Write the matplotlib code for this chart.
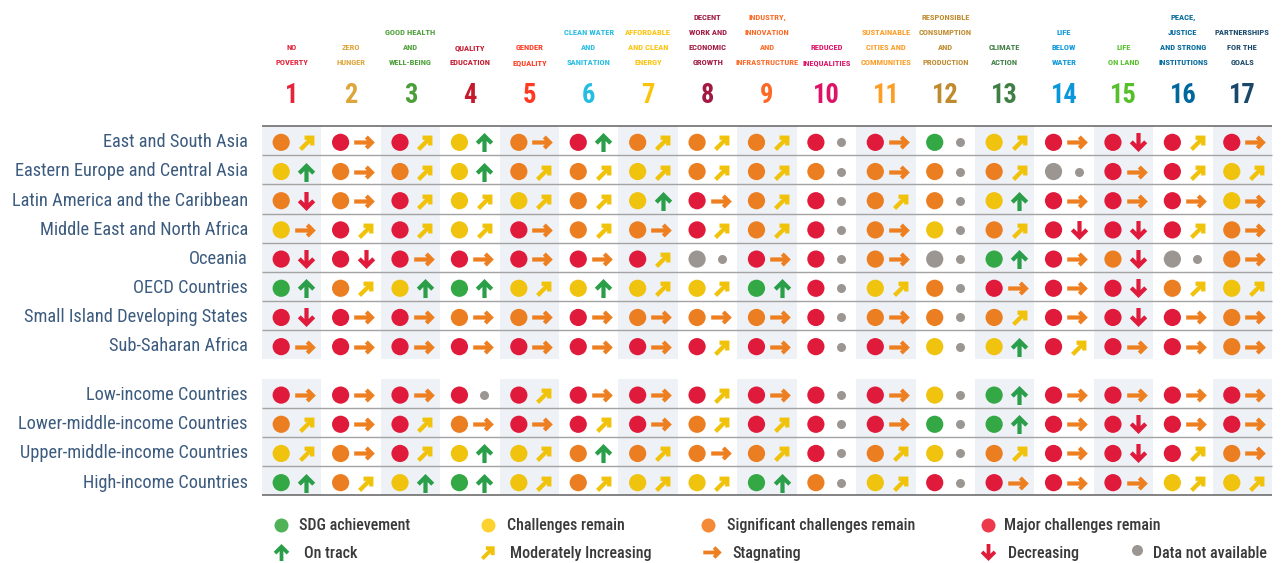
import os
import numpy as np
import matplotlib
matplotlib.use("Agg")
import matplotlib.pyplot as plt
from matplotlib import font_manager as fm
from matplotlib.path import Path
from matplotlib.markers import MarkerStyle

# ---------------------------------------------------------------- data
regions = ["East and South Asia", "Eastern Europe and Central Asia",
           "Latin America and the Caribbean", "Middle East and North Africa",
           "Oceania", "OECD Countries", "Small Island Developing States",
           "Sub-Saharan Africa"]
income_groups = ["Low-income Countries", "Lower-middle-income Countries",
                 "Upper-middle-income Countries", "High-income Countries"]

goal_numbers = ["1", "2", "3", "4", "5", "6", "7", "8", "9", "10",
                "11", "12", "13", "14", "15", "16", "17"]
goal_titles = ["NO\nPOVERTY", "ZERO\nHUNGER", "GOOD HEALTH\nAND\nWELL-BEING",
               "QUALITY\nEDUCATION", "GENDER\nEQUALITY",
               "CLEAN WATER\nAND\nSANITATION", "AFFORDABLE\nAND CLEAN\nENERGY",
               "DECENT\nWORK AND\nECONOMIC\nGROWTH",
               "INDUSTRY,\nINNOVATION\nAND\nINFRASTRUCTURE",
               "REDUCED\nINEQUALITIES", "SUSTAINABLE\nCITIES AND\nCOMMUNITIES",
               "RESPONSIBLE\nCONSUMPTION\nAND\nPRODUCTION", "CLIMATE\nACTION",
               "LIFE\nBELOW\nWATER", "LIFE\nON LAND",
               "PEACE,\nJUSTICE\nAND STRONG\nINSTITUTIONS",
               "PARTNERSHIPS\nFOR THE\nGOALS"]
goal_colors = ["#e5243b", "#dda63a", "#4c9f38", "#c5192d", "#ff3a21", "#26bde2",
               "#fcc30b", "#a21942", "#fd6925", "#dd1367", "#fd9d24", "#bf8b2e",
               "#3f7e44", "#0a97d9", "#56c02b", "#00689d", "#19486a"]

# dashboard status: G achieved, Y challenges, O significant, R major, N no data
status = [
    "ORRYOR OOORRG YRRRR",
    "YOOYOO YOOOOO ONRRY",
    "OORYYO YRORoO YRRRY",
    "YRRYRO OROROY ORRRO",
    "RRRRRR RNRRON GRONO",
    "GOYGYY YYGRYO RRROY",
    "RRROOR OOOROO ORRRO",
    "RRRRRR RRRRRY YRRRO",
    "RRRRRR RRRRRY GRRRR",
    "ORRORR RORRRG GRRRR",
    "YORYYO OOOROY ORRRO",
    "GOYGYO YYGOYR RRRYY",
]
# trend: U on track, M moderately increasing, S stagnating, D decreasing, X no data
trend = [
    "MSMUSU MMMXSX MSDMS",
    "USMUMM MMMXSX MXSMM",
    "DSMMMM USMXMX USSSS",
    "SMMMSM SMMXSX MDDMS",
    "DDSSSS MXSXSX USDXS",
    "UMUUMU MMUXMX SSDMM",
    "DSSSSS SSSXSX MSDSS",
    "SSSSSS SMSXSX UMSSS",
    "SSSXMS SMSXSX USSSS",
    "MSMSSM SMMXSX USDSS",
    "MSMUMU MSMXMX MSDMS",
    "UMUUMM MMUXMX SSSMM",
]

status_labels = ["SDG achievement", "Challenges remain",
                 "Significant challenges remain", "Major challenges remain"]
trend_labels = ["On track", "Moderately Increasing", "Stagnating",
                "Decreasing", "Data not available"]

# ---------------------------------------------------------------- style
DOT = {"G": "#33a845", "Y": "#efc30e", "O": "#ec7e22", "R": "#e01a3b", "N": "#9b9692"}
DOT_LEG = {"G": "#4fb257", "Y": "#fdd22e", "O": "#f58a36", "R": "#ec3a4b"}
ARROW = {"U": "#2a9e48", "M": "#f0c20a", "S": "#ee7f20", "D": "#e01a3b"}
GREY = "#9b9692"
SHADE = "#eef1f6"
LABEL_COLOR = "#3c5b7e"
LEGEND_COLOR = "#3a3a3a"

W, H = 1281, 563
fig = plt.figure(figsize=(W / 100, H / 100), dpi=100)
renderer = fig.canvas.get_renderer()

OK_WORDS = {"condensed", "extracondensed", "semicondensed", "ultracondensed",
            "narrow", "extra", "semi", "ultra", "cond", "bold", "semibold",
            "medium", "regular", "demibold", "extrabold"}
FAMILIES = ["roboto", "noto sans", "liberation sans", "open sans",
            "dejavu sans", "lato", "inter"]


def pick_font(wmin, wmax, extra=False):
    best, best_rank = None, None
    for f in fm.fontManager.ttflist:
        name = f.name.lower()
        if f.style != "normal":
            continue
        fam = next((k for k in FAMILIES if name.startswith(k)), None)
        if fam is None:
            continue
        rest = set(name[len(fam):].replace("-", " ").split())
        if not rest <= OK_WORDS:
            continue
        w = f.weight if isinstance(f.weight, int) else fm.weight_dict.get(f.weight, 400)
        if not (wmin <= w <= wmax):
            continue
        tag = (name + " " + os.path.basename(f.fname).lower()).replace(" ", "")
        if "extracondensed" in tag or "ultracondensed" in tag:
            wr = 0 if extra else 2
        elif "semicondensed" in tag:
            wr = 3
        elif "condensed" in tag or "narrow" in tag or f.stretch == "condensed":
            wr = 1 if extra else 0
        else:
            continue
        rank = (wr, FAMILIES.index(fam), abs(w - (wmin + wmax) / 2))
        if best_rank is None or rank < best_rank:
            best, best_rank = f, rank
    if best is None:
        return fm.FontProperties(family="DejaVu Sans",
                                 weight="bold" if wmin >= 600 else "normal")
    return fm.FontProperties(fname=best.fname)


def fit(fp, sample, target_px, max_pt):
    p = fp.copy()
    p.set_size(10)
    t = fig.text(0, 0, sample, fontproperties=p)
    w = t.get_window_extent(renderer).width
    t.remove()
    q = fp.copy()
    q.set_size(min(max_pt, 10 * target_px / w))
    return q


head_fp = fit(pick_font(650, 800, extra=True), "INFRASTRUCTURE", 63, 9.6)
num_fp = fit(pick_font(650, 800, extra=True), "10", 27, 20)
label_fp = fit(pick_font(350, 450), "Latin America and the Caribbean", 234, 15)
leg_base = pick_font(500, 620)
leg_fp = fit(leg_base, "Significant challenges remain", 209, 11.5)


def arrow_marker(L, a, w, angle):
    t, s = w / 2, w / np.sqrt(2)
    qx = L - np.sqrt(2) * w - t
    v = np.array([(-L, t), (qx, t), (L - a - s, a - s), (L - a, a), (L, 0),
                  (L - a, -a), (L - a - s, -(a - s)), (qx, -t), (-L, -t)])
    r = np.deg2rad(angle)
    rot = np.array([[np.cos(r), -np.sin(r)], [np.sin(r), np.cos(r)]])
    v = v @ rot.T
    m = np.abs(v).max()
    path = Path(np.vstack([v, v[:1]]), closed=True)
    return MarkerStyle(path), (2 * m * 0.72) ** 2


ARROW_SPEC = {"S": arrow_marker(10.3, 7.0, 4.2, 0),
              "U": arrow_marker(9.5, 8.7, 4.2, 90),
              "D": arrow_marker(9.5, 8.7, 4.2, 270),
              "M": arrow_marker(9.8, 7.0, 4.3, 45)}
ARROW_DX = {"S": 0.22, "U": 0.245, "D": 0.245, "M": 0.25}
DOT_DX, GREY_DX, MARK_DY = -0.177, 0.245, 0.06
DOT_S, GREY_S = (17.2 * 0.72) ** 2, (9 * 0.72) ** 2

# ---------------------------------------------------------------- legend
lax = fig.add_axes([0, 0, 1, 1])
lax.set_xlim(0, W)
lax.set_ylim(H, 0)
lax.axis("off")

leg_px = leg_fp.get_size() / 0.72
for code, lab, mx, tx in zip("GYOR", status_labels, [281, 488, 708, 988],
                             [299, 507, 727, 1004]):
    lax.scatter([mx], [524.7], s=(14 * 0.72) ** 2, color=DOT_LEG[code], linewidths=0)
    lax.text(tx, 524.7 + 0.36 * leg_px, lab, ha="left", va="baseline",
             color=LEGEND_COLOR, fontproperties=leg_fp)
for code, lab, mx, tx in zip("UMSDX", trend_labels, [281, 488, 712, 988, 1137],
                             [304, 510, 732, 1008, 1153]):
    if code == "X":
        lax.scatter([mx], [550], s=(11 * 0.72) ** 2, color=GREY, linewidths=0)
    else:
        mk, sz = ARROW_SPEC[code]
        lax.scatter([mx], [552], marker=mk, s=sz * 0.8, color=ARROW[code], linewidths=0)
    lax.text(tx, 552 + 0.36 * leg_px, lab, ha="left", va="baseline",
             color=LEGEND_COLOR, fontproperties=leg_fp)

# ---------------------------------------------------------------- grid
ax = fig.add_axes([262 / W, 1 - 495.5 / H, 1010 / W, 369.5 / H])
ax.set_xlim(-0.5, 16.5)
ax.set_ylim(12.16, -0.5)
ax.axis("off")

GAP = 8.66
cols = np.arange(len(goal_numbers))
row_y = np.r_[np.arange(len(regions)), GAP + np.arange(len(income_groups))]

for top, n in [(-0.5, len(regions)), (GAP - 0.5, len(income_groups))]:
    ax.bar(cols[::2], n, bottom=top, width=1, color=SHADE, linewidth=0, zorder=0)

ax.hlines([-0.5, GAP + len(income_groups) - 0.5], -0.5, 16.5, color="#6e6e6e",
          lw=1.2, zorder=1, clip_on=False)
seps = np.r_[np.arange(len(regions) - 1) + 0.5, GAP + np.arange(len(income_groups) - 1) + 0.5]
ax.hlines(seps, -0.5, 16.5, color="#a3a3a3", lw=1.0, zorder=1, clip_on=False)

st = np.array([list(s.replace(" ", "").upper()) for s in status]).ravel()
tr = np.array([list(s.replace(" ", "")) for s in trend]).ravel()
xs = np.tile(cols, len(row_y)).astype(float)
ys = np.repeat(row_y, len(cols)) + MARK_DY

ax.scatter(xs + DOT_DX, ys, s=DOT_S, c=[DOT[k] for k in st], linewidths=0, zorder=3)
for code, (mk, sz) in ARROW_SPEC.items():
    m = tr == code
    ax.scatter(xs[m] + ARROW_DX[code], ys[m], marker=mk, s=sz, color=ARROW[code],
               linewidths=0, zorder=3)
m = tr == "X"
ax.scatter(xs[m] + GREY_DX, ys[m], s=GREY_S, color=GREY, linewidths=0, zorder=3)

# row labels
lab_pt = label_fp.get_size()
for y, name in zip(row_y, regions + income_groups):
    ax.annotate(name, xy=(-0.5, y), xytext=(-14 * 0.72, -0.36 * lab_pt),
                textcoords="offset points", ha="right", va="baseline",
                color=LABEL_COLOR, fontproperties=label_fp, annotation_clip=False)

# goal headers
for i in cols:
    ax.text(i, -1.278, goal_numbers[i], ha="center", va="baseline",
            color=goal_colors[i], fontproperties=num_fp, clip_on=False)
    for k, line in enumerate(goal_titles[i].split("\n")[::-1]):
        ax.annotate(line, xy=(i, -2.59), xytext=(0, k * 15 * 0.72),
                    textcoords="offset points", ha="center", va="baseline",
                    color=goal_colors[i], fontproperties=head_fp,
                    annotation_clip=False)

fig.savefig("out.png", dpi=100)
